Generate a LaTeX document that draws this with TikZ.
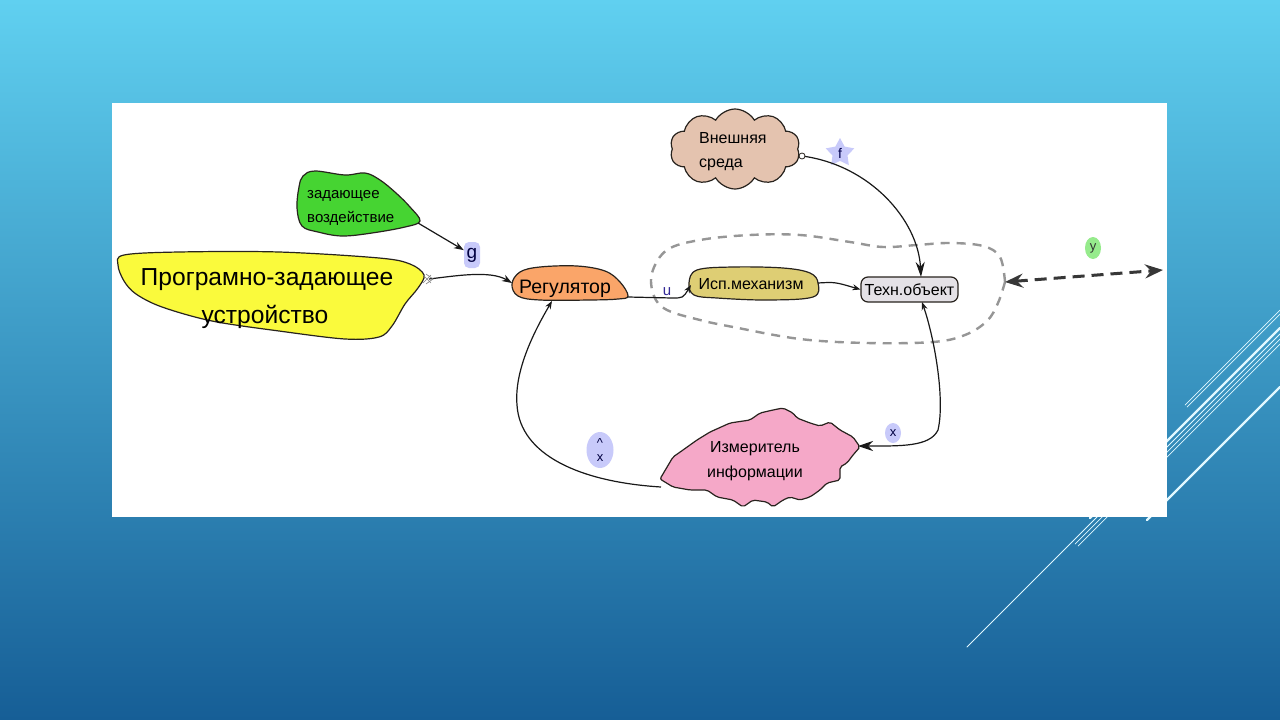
\documentclass[tikz,border=0pt]{standalone}
\usepackage{fontspec}
\setmainfont{Liberation Sans}
\usetikzlibrary{arrows.meta,shapes.geometric,shapes.symbols}
\definecolor{bgtop}{RGB}{96,208,240}
\definecolor{bgbot}{RGB}{22,94,150}
\definecolor{decol}{RGB}{225,248,255}
\definecolor{yel}{RGB}{250,250,60}
\definecolor{grn}{RGB}{70,212,50}
\definecolor{org}{RGB}{250,165,105}
\definecolor{khaki}{RGB}{222,206,116}
\definecolor{techgray}{RGB}{228,225,230}
\definecolor{cloudc}{RGB}{228,195,175}
\definecolor{pinkc}{RGB}{245,168,200}
\definecolor{lav}{RGB}{200,202,250}
\definecolor{lgreen}{RGB}{150,235,140}
\definecolor{dashgray}{RGB}{150,150,150}
\definecolor{darkdash}{RGB}{55,55,55}
\definecolor{ublue}{RGB}{50,40,150}
\definecolor{edge}{RGB}{40,35,30}
\begin{document}
\begin{tikzpicture}[x=1pt,y=-1pt,
  txt/.style={inner sep=0pt, text=black, font=\fontsize{16}{19}\selectfont},
  blob/.style={draw=edge, line width=1.2pt},
  conn/.style={draw=black!90, line width=1.2pt},
  arrowbig/.style={-{Stealth[length=15pt,width=9pt]}},
  arrowmid/.style={-{Stealth[length=10pt,width=7pt]}},
  arrowsmall/.style={-{Stealth[length=8pt,width=6pt]}},
  lab/.style={inner sep=1pt, fill=lav, text=black!75!blue},
  decoline/.style={draw=decol, line cap=round}]
% background
\shade[top color=bgtop, bottom color=bgbot] (0,0) rectangle (1280,720);
\useasboundingbox (0,0) rectangle (1280,720);
% decorative lines
\foreach \c/\xa/\w in {1590/1185/0.7, 1594/1187/0.7, 1608/1090/2.2, 1614/967/0.8, 1619/1075/0.7, 1624/1078/0.7, 1667/1147/2.2}
  \draw[decoline, line width=\w pt] (\xa,\c-\xa) -- (1280,\c-1280);
% white panel
\fill[white] (112,103) rectangle (1167,517);

% dashed boundary
\draw[dashgray, line width=2.4pt, dash pattern=on 9pt off 7pt]
  plot[smooth, tension=0.6] coordinates {(1005,282) (1000,257) (983,246) (950,243) (917,245) (883,247) (850,242) (800,235) (750,235) (700,240) (667,250) (652,273) (654,296) (667,310) (700,320) (733,327) (800,339) (867,343) (933,342) (965,335) (987,321) (998,303) (1005,282)};

% yellow blob
\draw[blob, fill=yel] plot[smooth cycle, tension=0.55] coordinates {(124,255) (179,252) (279,252) (379,258) (410,264) (424,275) (418,288) (405,304) (392,326) (379,337) (345,339) (279,331) (212,321) (162,307) (136,294) (124,281) (118,265)};
\node[txt, font=\fontsize{24.6}{28}\selectfont, anchor=base] (pz1) at (267,285) {Програмно-задающее};
\node[txt, font=\fontsize{24.6}{28}\selectfont, anchor=base] (pz2) at (265,323) {устройство};
\coordinate (pzout) at (429,279);

% green blob
\draw[blob, fill=grn] plot[smooth cycle, tension=0.6] coordinates {(299,187) (303,176) (315,171) (345,175) (365,173) (380,180) (396,193) (410,207) (420,221) (405,227) (372,233) (342,236) (318,232) (302,226) (297,208)};
\node[txt, font=\fontsize{15}{18}\selectfont, anchor=base west] (zv1) at (307,198) {задающее};
\node[txt, font=\fontsize{15}{18}\selectfont, anchor=base west] (zv2) at (307,222) {воздействие};
\coordinate (grout) at (418,223);

% regulator
\draw[blob, fill=org] plot[smooth cycle, tension=0.6] coordinates {(512,284) (520,272) (540,267) (577,266) (605,271) (620,282) (628,296) (618,299) (590,300) (540,300) (518,296)};
\node[txt, font=\fontsize{19.5}{22}\selectfont, anchor=base] (reg) at (565,293) {Регулятор};
\coordinate (regin) at (512,283);
\coordinate (regout) at (628,297);
\coordinate (regbot) at (552,301);

% actuator
\draw[blob, fill=khaki] plot[smooth cycle, tension=0.6] coordinates {(689,283) (697,270) (733,267) (783,268) (810,273) (818,283) (813,297) (767,300) (717,298) (694,295)};
\node[txt, anchor=base] (isp) at (751,289) {Исп.механизм};
\coordinate (ispin) at (691,285);
\coordinate (ispout) at (818,283);

% tech object
\node[draw=edge, line width=1.2pt, fill=techgray, rounded corners=7pt, minimum width=97pt, minimum height=25pt, inner sep=0pt, font=\fontsize{16}{19}\selectfont] (tech) at (909.5,289.5) {Техн.объект};
\coordinate (techtop) at (921,277);
\coordinate (techbot) at (922,302);

% environment cloud
\node[cloud, cloud puffs=10, cloud puff arc=120, cloud ignores aspect, draw=edge, line width=1.2pt, fill=cloudc, minimum width=130pt, minimum height=80pt, inner sep=0pt] (env) at (735,149) {};
\node[txt, anchor=base west] (env1) at (699,143) {Внешняя};
\node[txt, anchor=base west] (env2) at (699,167) {среда};
\coordinate (envout) at (802,156);

% measurer
\draw[blob, fill=pinkc, rounded corners=2pt] (660,479) -- (673,457) -- (683,450) -- (697,440) -- (710,432) -- (730,423) -- (750,420) -- (760,413) -- (773,410) -- (783,408) -- (793,413) -- (797,418) -- (810,423) -- (820,426) -- (830,422) -- (840,430) -- (853,437) -- (860,447) -- (853,455) -- (847,463) -- (840,467) -- (840,480) -- (827,483) -- (820,490) -- (810,497) -- (800,500) -- (790,497) -- (783,500) -- (773,507) -- (767,502) -- (753,500) -- (743,507) -- (733,500) -- (717,497) -- (707,490) -- (690,490) -- (673,487) -- cycle;
\node[txt, anchor=base] (meas1) at (755,452) {Измеритель};
\node[txt, anchor=base] (meas2) at (755,477) {информации};
\coordinate (measin) at (858,446);
\coordinate (measout) at (661,487);

% labels
\node[lab, rounded corners=5pt, minimum width=16pt, minimum height=26pt, font=\fontsize{19}{21}\selectfont] (g) at (472,255) {g};
\node[inner sep=0pt, text=ublue, font=\fontsize{15}{17}\selectfont, anchor=base] (u) at (667,295) {u};
\node[star, star points=5, star point ratio=1.9, fill=lav, minimum size=30pt, inner sep=0pt, font=\fontsize{14}{16}\selectfont, text=black!70!blue] (f) at (840,153) {f};
\node[lab, ellipse, minimum width=16pt, minimum height=20pt, inner sep=0pt, font=\fontsize{13}{15}\selectfont] (xl) at (893,433) {x};
\node[ellipse, fill=lgreen, minimum width=16pt, minimum height=22pt, inner sep=0pt, font=\fontsize{13}{15}\selectfont, text=black!80] (yl) at (1093,248) {y};
\node[lab, ellipse, minimum width=27pt, minimum height=36pt, inner sep=0pt, align=center, font=\fontsize{13}{14}\selectfont] (xh) at (600,450) {\textasciicircum\\x};
\coordinate (yleft) at (1005,282);
\coordinate (yright) at (1163,270);

% connectors
\draw[conn, arrowmid] (pzout) .. controls (455,276) and (490,270) .. (regin);
\draw[gray, line width=0.6pt] (423,275) -- (431,283) (423,283) -- (431,275) (426,274) -- (433,279) -- (426,284);
\draw[conn, arrowmid] (grout) -- (g);
\draw[conn, arrowsmall] (regout) -- (672,298) .. controls (683,298) .. (ispin);
\draw[conn, arrowsmall] (ispout) .. controls (835,282) .. (tech.west);
\draw[conn, arrowbig] (envout) .. controls (870,165) and (918,220) .. (techtop);
\draw[edge, fill=white, line width=0.8pt] (envout) circle (3);
\draw[conn, {Stealth[length=8pt,width=6pt]}-{Stealth[length=15pt,width=10pt]}] (techbot) .. controls (935,340) and (945,400) .. (938,430) .. controls (930,447) and (900,446) .. (measin);
\draw[conn, arrowsmall] (measout) .. controls (580,482) and (520,455) .. (517,405) .. controls (514,370) and (535,330) .. (regbot);
\draw[darkdash, line width=3pt, dash pattern=on 12pt off 7pt, {Stealth[length=18pt,width=14pt,inset=6pt]}-{Stealth[length=18pt,width=14pt,inset=6pt]}] (yleft) -- (yright);
\end{tikzpicture}
\end{document}
